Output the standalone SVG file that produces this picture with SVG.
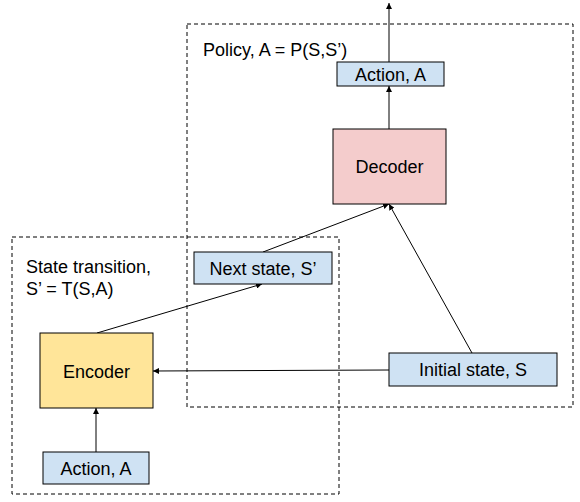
<svg xmlns="http://www.w3.org/2000/svg" width="580" height="502" viewBox="0 0 580 502">
<defs>
<marker id="ah" viewBox="0 0 10 10" refX="10" refY="5" markerWidth="6" markerHeight="6" orient="auto" markerUnits="userSpaceOnUse">
<path d="M0,0 L10,5 L0,10 z" fill="#000"/>
</marker>
<style>
.grp{fill:none;stroke:#000;stroke-width:1;stroke-dasharray:4,3}
.blue{fill:#cfe2f3;stroke:#000;stroke-width:1}
.yel{fill:#ffe599;stroke:#000;stroke-width:1}
.pink{fill:#f4cccc;stroke:#000;stroke-width:1}
text{font-family:"Liberation Sans",Arial,sans-serif;font-size:18px;fill:#000}
.lbl{font-size:18px}
.c{text-anchor:middle}
.edge{stroke:#000;stroke-width:1;fill:none;marker-end:url(#ah)}
</style>
</defs>
<rect width="580" height="502" fill="#fff"/>
<g id="policy-group">
<rect class="grp" x="187" y="24" width="386" height="383"/>
<text class="lbl" x="203" y="56">Policy, A = P(S,S’)</text>
</g>
<g id="transition-group">
<rect class="grp" x="12" y="237" width="327" height="257"/>
<text class="lbl" x="26" y="273">State transition,</text>
<text class="lbl" x="26" y="295">S’ = T(S,A)</text>
</g>
<g id="connectors">
<line class="edge" x1="389" y1="62" x2="389" y2="3"/>
<line class="edge" x1="389" y1="129" x2="389" y2="86"/>
<line class="edge" x1="96" y1="452" x2="96" y2="408"/>
<line class="edge" x1="97" y1="333" x2="262" y2="284"/>
<line class="edge" x1="263" y1="252" x2="389" y2="204"/>
<line class="edge" x1="472" y1="353" x2="389" y2="204"/>
<line class="edge" x1="389" y1="370" x2="153" y2="371"/>
</g>
<g id="action-top">
<rect class="blue" x="337" y="62" width="107" height="24"/>
<text class="c" x="390.5" y="81">Action, A</text>
</g>
<g id="decoder">
<rect class="pink" x="333" y="129" width="113" height="75"/>
<text class="c" x="389.5" y="173">Decoder</text>
</g>
<g id="next-state">
<rect class="blue" x="194" y="252" width="138" height="32"/>
<text class="c" x="263" y="275">Next state, S’</text>
</g>
<g id="initial-state">
<rect class="blue" x="389" y="353" width="168" height="33"/>
<text class="c" x="473" y="376">Initial state, S</text>
</g>
<g id="encoder">
<rect class="yel" x="40" y="333" width="113" height="75"/>
<text class="c" x="96.5" y="378">Encoder</text>
</g>
<g id="action-bottom">
<rect class="blue" x="43" y="452" width="106" height="32"/>
<text class="c" x="96" y="475">Action, A</text>
</g>
</svg>
